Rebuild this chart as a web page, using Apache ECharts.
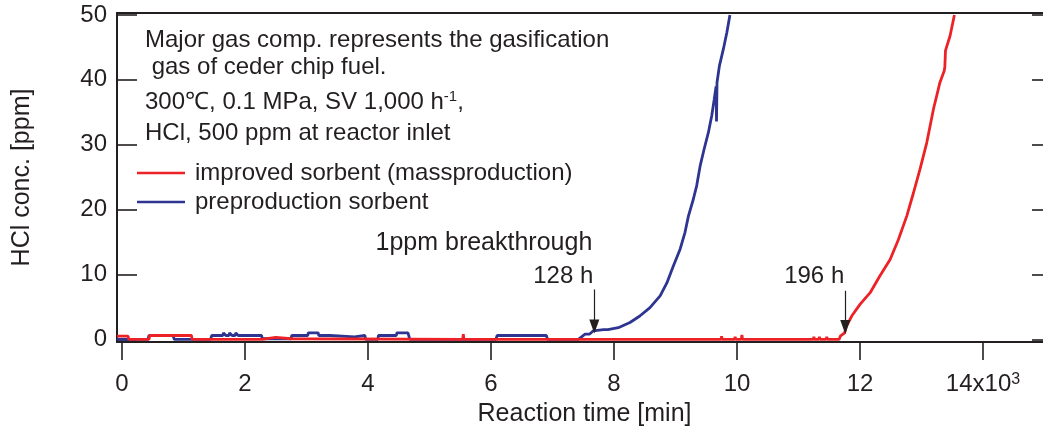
<!DOCTYPE html>
<html><head><meta charset="utf-8">
<script src="https://cdn.jsdelivr.net/npm/echarts@6/dist/echarts.min.js"></script>
<style>html,body{margin:0;padding:0;background:#fff}#c{width:1043px;height:434px}</style>
</head><body><div id="c"></div>
<script>
const FONT = '"Liberation Sans", Arial, Helvetica, sans-serif';
const INK = '#231f20';
const RED = '#ec2227';
const BLUE = '#2e3590';

// axis ticks
const xTickValues = [0, 2000, 4000, 6000, 8000, 10000, 12000, 14000];
const yTickValues = [0, 10, 20, 30, 40, 50];

// legend / series names
const seriesNames = ['improved sorbent (massproduction)', 'preproduction sorbent'];

// breakthrough annotations (reaction time in min, arrow top / tip in ppm)
const breakthroughTimes = [7680, 11760];
const breakthroughLabels = ['128 h', '196 h'];
const arrowTop = [7.7, 7.5];
const arrowTip = [2.0, 1.9];

// [reaction time (min), HCl (ppm)]
const improvedData = [
  [-80,0.5],[100,0.5],[110,0],[440,0],[450,0.6],[1130,0.6],[1140,0],[2270,0],[2280,0.3],[2500,0.3],[2510,0.1],
  [2750,0.1],[2760,0],[5540,0],[5550,0.8],[5560,0],[9740,0],[9750,0.5],[9760,0],[9960,0],[9970,0.4],[9980,0],
  [10070,0],[10080,0.7],[10090,0],[11240,0],[11250,0.4],[11260,0],[11330,0],[11340,0.4],[11350,0],[11450,0],
  [11460,0.4],[11470,0],[11660,0],[11680,0.5],[11750,1.0],[11780,2.0],[11865,3.6],[12000,5.4],[12165,7.2],
  [12325,9.8],[12490,12.3],[12625,15.4],[12760,19.0],[12870,22.6],[12975,26.2],[13085,30.3],[13195,35.5],
  [13300,39.6],[13370,41.4],[13380,42.0],[13390,44.5],[13465,46.8],[13535,50.0]
];
const preproductionData = [
  [-80,0],[420,0],[440,0.6],[830,0.6],[850,0],[1440,0],[1460,0.6],[1640,0.6],[1650,1.0],[1680,1.0],[1690,0.6],
  [1740,0.6],[1750,1.0],[1780,1.0],[1790,0.6],[1840,0.6],[1850,1.0],[1880,1.0],[1890,0.6],[2270,0.6],[2280,0.1],
  [2750,0.1],[2760,0.6],[3020,0.6],[3030,1.0],[3190,1.0],[3200,0.6],[3380,0.6],[3390,0.4],[3780,0.4],[3790,0.6],
  [3950,0.6],[3960,0],[4160,0],[4170,0.6],[4400,0.6],[4410,0.3],[4430,0.6],[4460,0.6],[4470,1.0],[4650,1.0],
  [4680,0],[6080,0],[6100,0.6],[6900,0.6],[6920,0],[7420,0],[7530,0.8],[7600,0.8],[7660,1.3],[7830,1.5],
  [7900,1.5],[8070,1.8],[8260,2.6],[8420,3.6],[8585,4.9],[8750,6.7],[8860,8.7],[8965,11.3],[9075,13.9],
  [9155,16.5],[9210,19.0],[9290,21.6],[9345,23.7],[9400,26.7],[9465,29.3],[9535,31.9],[9590,34.5],[9630,37.0],
  [9660,39.0],[9667,33.6],[9675,39.6],[9715,42.2],[9780,44.8],[9835,47.3],[9885,50.0]
];

const chart = echarts.init(document.getElementById('c'), null, {renderer: 'canvas'});

function arrow(i) {
  return {
    silent: true, animation: false,
    symbol: ['none', 'triangle'], symbolSize: [10, 14],
    label: {show: false},
    lineStyle: {color: INK, width: 1.2, type: 'solid'},
    data: [[{coord: [breakthroughTimes[i], arrowTop[i]]}, {coord: [breakthroughTimes[i], arrowTip[i]]}]]
  };
}

const option = {
  animation: false,
  textStyle: {fontFamily: FONT, color: INK},
  grid: {left: 117, top: 13, width: 935, height: 329, containLabel: false, outerBoundsMode: 'none'},
  legend: {
    orient: 'vertical', left: 137, top: 160, padding: 0, icon: 'rect', itemWidth: 48, itemHeight: 2.5, itemGap: 3,
    data: seriesNames,
    textStyle: {fontFamily: FONT, color: INK, fontSize: 24, lineHeight: 26, padding: [0, 0, 0, 5]}
  },
  xAxis: [{
    type: 'value', position: 'bottom', min: -81, max: 15122,
    axisLine: {show: true, onZero: false, lineStyle: {color: INK, width: 2}},
    axisTick: {show: true, inside: false, length: 18, lineStyle: {color: INK, width: 1.6}, customValues: xTickValues},
    axisLabel: {
      show: true, margin: 30, fontSize: 24, fontFamily: FONT, color: INK, customValues: xTickValues,
      formatter: v => v === 14000 ? '{b|14x10}{s|3}' : String(v / 1000),
      rich: {b: {fontSize: 24, fontFamily: FONT, color: INK}, s: {fontSize: 16, fontFamily: FONT, color: INK, verticalAlign: 'top'}}
    },
    splitLine: {show: false},
    name: 'Reaction time [min]', nameLocation: 'middle', nameGap: 60,
    nameTextStyle: {fontSize: 25, fontFamily: FONT, color: INK}
  }, {
    type: 'value', position: 'top', min: -81, max: 15122,
    axisLine: {show: true, onZero: false, lineStyle: {color: INK, width: 2}},
    axisTick: {show: false}, axisLabel: {show: false}, splitLine: {show: false}
  }],
  yAxis: [{
    type: 'value', position: 'left', min: -0.4, max: 50.3,
    axisLine: {show: true, onZero: false, lineStyle: {color: INK, width: 2}},
    axisTick: {show: true, inside: true, length: 20, lineStyle: {color: INK, width: 1.6}, customValues: yTickValues},
    axisLabel: {show: true, margin: 10, fontSize: 24, fontFamily: FONT, color: INK, customValues: yTickValues},
    splitLine: {show: false},
    name: 'HCl conc. [ppm]', nameLocation: 'middle', nameGap: 82,
    nameTextStyle: {fontSize: 25, fontFamily: FONT, color: INK}
  }, {
    type: 'value', position: 'right', min: -0.4, max: 50.3,
    axisLine: {show: true, onZero: false, lineStyle: {color: INK, width: 2}},
    axisTick: {show: true, inside: true, length: 20, lineStyle: {color: INK, width: 1.6}, customValues: yTickValues},
    axisLabel: {show: false}, splitLine: {show: false}
  }],
  series: [{
    name: seriesNames[1], type: 'line', data: preproductionData, showSymbol: false, symbol: 'none',
    color: BLUE, lineStyle: {color: BLUE, width: 2.8}, z: 2, markLine: arrow(0)
  }, {
    name: seriesNames[0], type: 'line', data: improvedData, showSymbol: false, symbol: 'none',
    color: RED, lineStyle: {color: RED, width: 2.8}, z: 3, markLine: arrow(1)
  }]
};
chart.setOption(option);

// text annotations
const ann = [
  {x: 145, y: 40, text: 'Major gas comp. represents the gasification'},
  {x: 145, y: 67, text: ' gas of ceder chip fuel.'},
  {x: 145, y: 102, text: '300\u2103, 0.1 MPa, SV 1,000 h{s|-1},'},
  {x: 145, y: 133, text: 'HCl, 500 ppm at reactor inlet'}
];
const graphics = ann.map(a => ({
  type: 'text', left: a.x, top: a.y - 13, silent: true,
  style: {text: a.text, fontFamily: FONT, fontSize: 24, fill: INK, lineHeight: 26,
    rich: {s: {fontSize: 15, fontFamily: FONT, fill: INK, verticalAlign: 'top', lineHeight: 26}}}
}));
const p1 = chart.convertToPixel({xAxisIndex: 0, yAxisIndex: 0}, [breakthroughTimes[0], 14.8]);
graphics.push({type: 'text', x: p1[0] - 2, y: p1[1], silent: true,
  style: {text: '1ppm breakthrough', fontFamily: FONT, fontSize: 25, fill: INK, align: 'right', verticalAlign: 'middle'}});
breakthroughTimes.forEach((t, i) => {
  const p = chart.convertToPixel({xAxisIndex: 0, yAxisIndex: 0}, [t, 9.7]);
  graphics.push({type: 'text', x: p[0] - 1, y: p[1], silent: true,
    style: {text: breakthroughLabels[i], fontFamily: FONT, fontSize: 24, fill: INK, align: 'right', verticalAlign: 'middle'}});
});
chart.setOption({graphic: graphics});
</script>
</body></html>
